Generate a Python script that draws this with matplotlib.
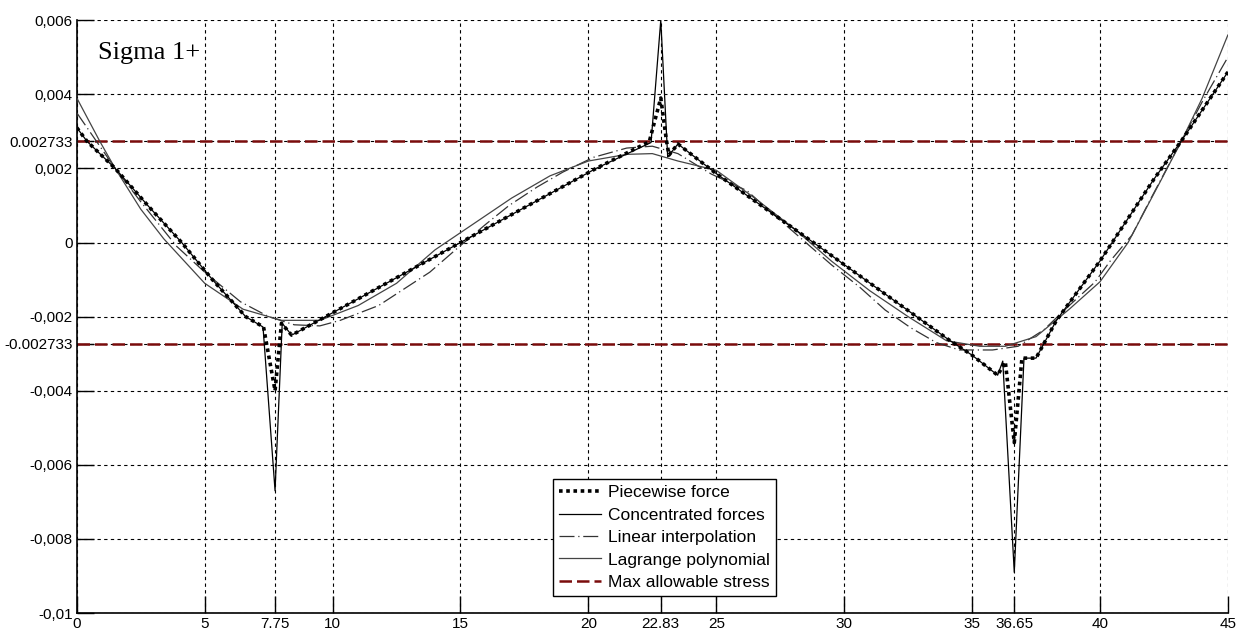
import matplotlib
matplotlib.use("Agg")
import matplotlib.pyplot as plt

plt.rcParams['font.family'] = ['Liberation Sans', 'DejaVu Sans']

# data
x_piecewise = [0, 0.4, 1.5, 2.8, 4.1, 5.3, 6.6, 7.3, 7.75, 8.0, 8.4, 11.05, 15, 20.3, 22.38,
               22.83, 23.05, 23.15, 23.5, 25, 29, 34.1, 35.0, 36.0, 36.3, 36.65, 36.95,
               37.5, 38.3, 40.0, 42.1, 43.2, 45]
y_piecewise = [0.0031, 0.00273, 0.0020, 0.00098, 0.0, -0.0010, -0.0020, -0.00228, -0.0040,
               -0.00218, -0.0025, -0.0015, 0.0, 0.0020, 0.00272,
               0.0039, 0.00276, 0.00236, 0.00266, 0.00186, -0.0001, -0.00263, -0.00304,
               -0.00358, -0.00322, -0.0054, -0.00312,
               -0.00312, -0.0021, -0.0005, 0.0017, 0.00276, 0.0046]

x_concentrated = [0, 0.4, 1.5, 2.8, 4.1, 5.3, 6.6, 7.28, 7.75, 8.03, 8.4, 11.05, 15, 20.3, 22.45,
                  22.83, 23.1, 23.5, 25, 29, 34.1, 35.0, 36.0, 36.2, 36.65, 37.03,
                  37.5, 38.3, 40.0, 42.1, 43.2, 45]
y_concentrated = [0.0031, 0.00273, 0.0020, 0.00098, 0.0, -0.0010, -0.0020, -0.00228, -0.0067,
                  -0.00218, -0.0025, -0.0015, 0.0, 0.0020, 0.0027,
                  0.0060, 0.00231, 0.00266, 0.00186, -0.0001, -0.00263, -0.00304,
                  -0.00358, -0.0032, -0.0089, -0.00312,
                  -0.00312, -0.0021, -0.0005, 0.0017, 0.00276, 0.0046]

x_linear = [0, 0.8, 1.5, 2.5, 3.9, 5, 6.4, 7.5, 8.5, 9.5, 10.3, 11.8, 13.8, 14.8, 16, 16.9,
            18, 19, 20.2, 21.5, 22.5, 23.5, 24.8, 26.2, 27.5, 28.5, 29.5, 30.6, 31.6, 32.6,
            33.6, 34.5, 35.8, 36.8, 37.8, 38.8, 39.8, 40.4, 41.25, 42, 43.2, 44, 45]
y_linear = [0.0035, 0.0027, 0.0020, 0.0011, -0.0001, -0.0008, -0.0016, -0.0020, -0.00222,
            -0.00225, -0.0021, -0.0017, -0.0008, -0.0002, 0.0005, 0.0010,
            0.0015, 0.0019, 0.0023, 0.00255, 0.0026, 0.0024, 0.00185, 0.0014, 0.0006, 0.0,
            -0.0006, -0.0012, -0.00182, -0.0023,
            -0.0027, -0.0029, -0.0029, -0.0028, -0.00236, -0.0017, -0.00107, -0.0005,
            0.0002, 0.0012, 0.00276, 0.0038, 0.0050]

x_lagrange = [0, 0.9, 1.5, 2.5, 3.4, 5, 6.5, 8, 9.5, 11, 12.5, 14, 15.5, 17, 18.5, 20, 21.5,
              22.5, 23.5, 25, 26.5, 28, 29.5, 31, 32.5, 34, 35.3, 36.3, 37.5, 38.8, 40, 41.1,
              42.4, 43.2, 44, 45]
y_lagrange = [0.0039, 0.00273, 0.0020, 0.0009, 0.0001, -0.0011, -0.0018, -0.0021, -0.0021,
              -0.0017, -0.0011, -0.0002, 0.0005, 0.0012, 0.0018, 0.0022, 0.00238,
              0.0024, 0.0022, 0.00195, 0.0012, 0.0004, -0.0005, -0.0013, -0.0020, -0.00265,
              -0.0028, -0.0028, -0.00254, -0.0018, -0.00106, 0.0,
              0.0017, 0.00276, 0.0039, 0.0056]

stress_limit = 0.002733

x_ticks = [0, 5, 7.75, 10, 15, 20, 22.83, 25, 30, 35, 36.65, 40, 45]
x_tick_labels = ['0', '5', '7.75', '10', '15', '20', '22.83', '25', '30', '35', '36.65', '40', '45']
y_ticks = [-0.01, -0.008, -0.006, -0.004, -0.002733, -0.002, 0, 0.002, 0.002733, 0.004, 0.006]
y_tick_labels = ['-0,01', '-0,008', '-0,006', '-0,004', '-0.002733', '-0,002', '0', '0,002',
                 '0.002733', '0,004', '0,006']

fig = plt.figure(figsize=(12.39, 6.32), dpi=100)
ax = fig.add_axes([0.062, 0.030, 0.929, 0.938])

ax.plot(x_piecewise, y_piecewise, color='black', lw=2.6, linestyle=(0, (1, 1)),
        label='Piecewise force', zorder=5)
ax.plot(x_concentrated, y_concentrated, color='black', lw=0.9, label='Concentrated forces', zorder=4)
ax.plot(x_linear, y_linear, color='#333333', lw=0.9, linestyle=(0, (12, 3, 1, 3)),
        label='Linear interpolation', zorder=3)
ax.plot(x_lagrange, y_lagrange, color='#444444', lw=0.9, label='Lagrange polynomial', zorder=3)
ax.axhline(stress_limit, color='#7a0c0c', lw=1.8, linestyle=(0, (5, 2)),
           label='Max allowable stress', zorder=2)
ax.axhline(-stress_limit, color='#7a0c0c', lw=1.8, linestyle=(0, (5, 2)), zorder=2)

ax.set_xlim(0, 45)
ax.set_ylim(-0.01, 0.006)
ax.set_xticks(x_ticks)
ax.set_xticklabels(x_tick_labels)
ax.set_yticks(y_ticks)
ax.set_yticklabels(y_tick_labels)
ax.tick_params(direction='in', length=12, width=1, labelsize=11, pad=3)
ax.grid(True, color='black', lw=0.8, linestyle=(0, (3, 3)))

ax.spines['top'].set_visible(False)
ax.spines['right'].set_visible(False)
ax.spines['left'].set_linewidth(1.2)
ax.spines['bottom'].set_linewidth(1.2)

ax.text(0.018, 0.945, 'Sigma 1+', transform=ax.transAxes, fontsize=19,
        family='Liberation Serif', va='center', ha='left')

leg = ax.legend(loc='lower left', bbox_to_anchor=(0.4136, 0.0287), borderaxespad=0,
                fontsize=12.5, fancybox=False, framealpha=1, edgecolor='black',
                handlelength=2.4, borderpad=0.35, labelspacing=0.42, handletextpad=0.45)
leg.get_frame().set_linewidth(1.0)

fig.savefig('out.png', dpi=100)
